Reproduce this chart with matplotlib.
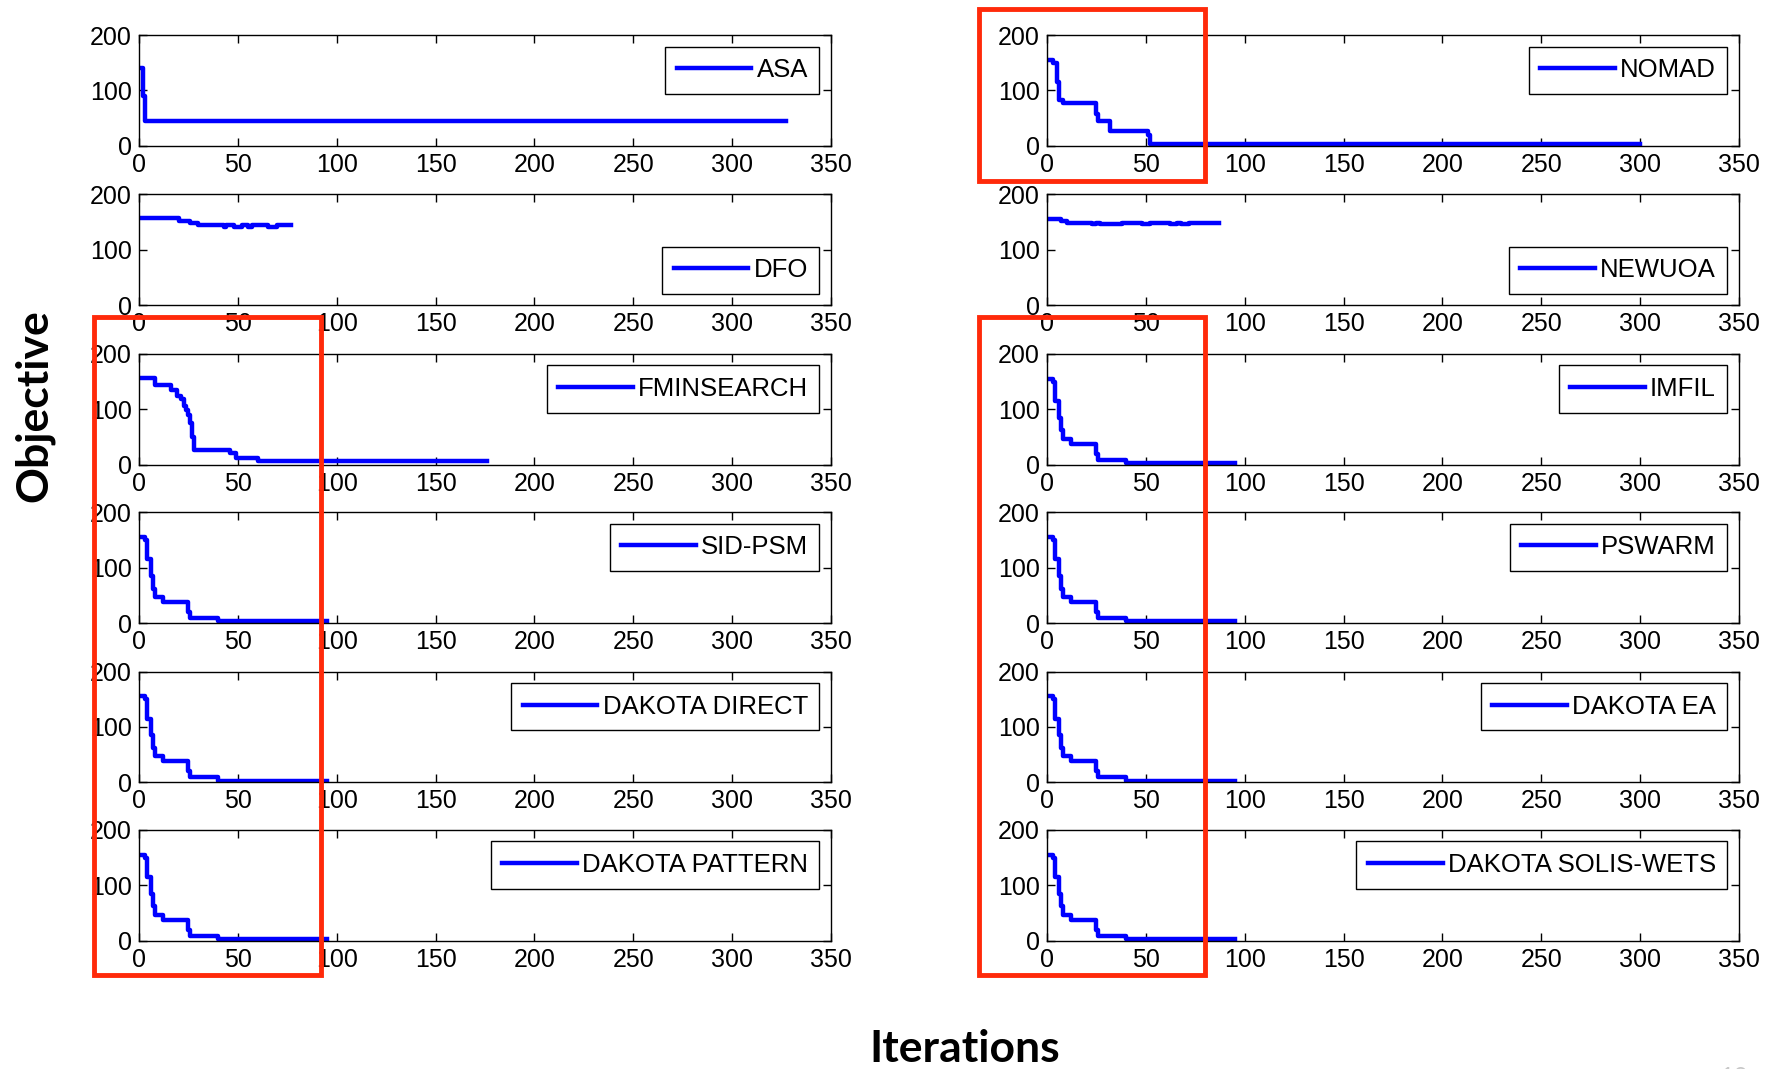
import matplotlib.pyplot as plt
from matplotlib.patches import Rectangle

# best objective so far: iteration where it changes and the value from there on
asa_it = [0, 2, 3, 327]
asa_obj = [140, 90, 45, 45]

nomad_it = [0, 3, 5, 6, 8, 25, 26, 32, 51, 52, 300]
nomad_obj = [155, 150, 115, 82, 78, 58, 45, 27, 20, 3, 3]

dfo_it = [0, 20, 26, 30, 43, 44, 48, 52, 55, 57, 65, 70, 77]
dfo_obj = [158, 152, 149, 145, 141, 145, 141, 145, 141, 145, 141, 145, 145]

newuoa_it = [0, 7, 10, 23, 25, 27, 38, 48, 52, 62, 66, 68, 72, 87]
newuoa_obj = [155, 152, 148, 146, 148, 146, 148, 146, 148, 146, 148, 146, 148, 148]

fmin_it = [0, 8, 16, 19, 21, 23, 24, 25, 26, 27, 28, 46, 49, 60, 176]
fmin_obj = [157, 143, 135, 124, 118, 105, 98, 90, 75, 50, 27, 22, 12, 7, 7]

# SID-PSM, IMFIL, PSWARM and the DAKOTA solvers all follow the same path
fast_it = [0, 3, 4, 6, 7, 8, 12, 25, 26, 40, 95]
fast_obj = [155, 150, 115, 85, 62, 47, 38, 20, 9, 3, 3]

left_names = ["ASA", "DFO", "FMINSEARCH", "SID-PSM", "DAKOTA DIRECT", "DAKOTA PATTERN"]
left_runs = [(asa_it, asa_obj), (dfo_it, dfo_obj), (fmin_it, fmin_obj),
             (fast_it, fast_obj), (fast_it, fast_obj), (fast_it, fast_obj)]
right_names = ["NOMAD", "NEWUOA", "IMFIL", "PSWARM", "DAKOTA EA", "DAKOTA SOLIS-WETS"]
right_runs = [(nomad_it, nomad_obj), (newuoa_it, newuoa_obj), (fast_it, fast_obj),
              (fast_it, fast_obj), (fast_it, fast_obj), (fast_it, fast_obj)]
lower_legend = {"DFO", "NEWUOA"}

plt.rcParams["font.family"] = ["Liberation Sans", "DejaVu Sans"]

fig = plt.figure(figsize=(17.73, 10.69), dpi=100)

col_left = [0.0784, 0.5905]
col_w = 0.3903
row_bottom = [0.8635, 0.7144, 0.5653, 0.4172, 0.2681, 0.1200]
row_h = 0.1037


def draw_panel(ax, it, obj, name):
    ax.step(it, obj, where="post", color="#0000ff", lw=3.2, label=name)
    ax.set_xlim(0, 350)
    ax.set_ylim(0, 200)
    ax.set_xticks(range(0, 351, 50))
    ax.set_yticks([0, 100, 200])
    ax.tick_params(direction="in", top=True, right=True, length=6, width=1,
                   labelsize=18, pad=5, colors="black")
    for s in ax.spines.values():
        s.set_linewidth(1.0)
    loc = "lower right" if name in lower_legend else "upper right"
    leg = ax.legend(loc=loc, fontsize=18.5, fancybox=False, edgecolor="black",
                    framealpha=1, borderpad=0.45, handlelength=2.9,
                    handletextpad=0.2, borderaxespad=0.45)
    leg.get_frame().set_linewidth(1.0)


for c, (names, runs) in enumerate([(left_names, left_runs), (right_names, right_runs)]):
    for r in range(6):
        ax = fig.add_axes([col_left[c], row_bottom[r], col_w, row_h])
        draw_panel(ax, runs[r][0], runs[r][1], names[r])

# highlight boxes around the early iterations
red = "#ff2a0a"
boxes = [(0.5522, 0.8307, 0.1274, 0.1609),
         (0.0530, 0.0879, 0.1280, 0.6156),
         (0.5522, 0.0879, 0.1274, 0.6156)]
for x0, y0, w, h in boxes:
    fig.add_artist(Rectangle((x0, y0), w, h, transform=fig.transFigure,
                             fill=False, edgecolor=red, lw=3.5, zorder=10))

fig.text(0.019, 0.621, "Objective", rotation=90, ha="center", va="center",
         fontsize=32, fontweight="bold", family=["Lato", "DejaVu Sans"])
fig.text(0.544, 0.0190, "Iterations", ha="center", va="center",
         fontsize=32, fontweight="bold", family=["Lato", "DejaVu Sans"])
fig.text(0.978, -0.008, "10", ha="center", va="center", fontsize=18,
         color="#c8c8c8", family=["Lato", "DejaVu Sans"])

fig.savefig("out.png", dpi=100)
